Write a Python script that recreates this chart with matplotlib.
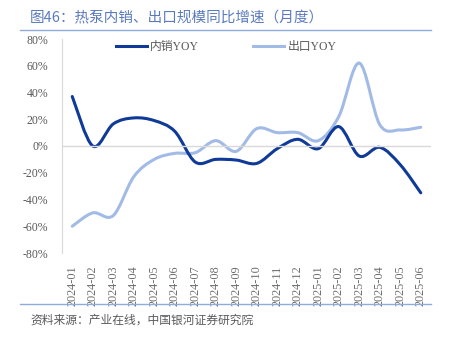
import numpy as np
import matplotlib
matplotlib.use('Agg')
import matplotlib.pyplot as plt
from matplotlib.path import Path
from matplotlib.patches import PathPatch
from matplotlib.lines import Line2D

plt.rcParams['font.family'] = ['Liberation Serif', 'Noto Sans CJK SC', 'DejaVu Sans']

months = ['2024-01', '2024-02', '2024-03', '2024-04', '2024-05', '2024-06',
          '2024-07', '2024-08', '2024-09', '2024-10', '2024-11', '2024-12',
          '2025-01', '2025-02', '2025-03', '2025-04', '2025-05', '2025-06']
domestic_yoy = [37, 0, 16.5, 21, 19, 11, -12, -10, -10.5, -13, -2, 5,
                -2, 14.5, -7.5, -1, -14, -35]
export_yoy = [-60, -50, -52, -23, -10, -5.5, -5, 4, -4, 13, 10, 10,
              4, 22, 62, 16, 12, 14]

DARK = '#103a98'
LIGHT = '#a2bbe6'
GRAY = '#595959'


def smooth_path(xs, ys, tension=1 / 6):
    # Excel-like smoothed line: cubic Bezier segments through each point
    pts = np.column_stack([xs, ys]).astype(float)
    verts = [pts[0]]
    codes = [Path.MOVETO]
    n = len(pts)
    for i in range(n - 1):
        p0 = pts[i - 1] if i > 0 else pts[i]
        p1 = pts[i]
        p2 = pts[i + 1]
        p3 = pts[i + 2] if i + 2 < n else pts[i + 1]
        c1 = p1 + (p2 - p0) * tension
        c2 = p2 - (p3 - p1) * tension
        verts += [c1, c2, p2]
        codes += [Path.CURVE4] * 3
    return Path(verts, codes)


fig = plt.figure(figsize=(4.52, 3.37), dpi=100)
ax = fig.add_axes([62 / 452, 1 - 253 / 337, (431 - 62) / 452, (253 - 39) / 337])

x = np.arange(len(months))
for ys, col in [(export_yoy, LIGHT), (domestic_yoy, DARK)]:
    ax.add_patch(PathPatch(smooth_path(x, ys), facecolor='none', edgecolor=col,
                           lw=2.2, capstyle='round'))

ax.set_xlim(-0.5, len(months) - 0.5)
ax.set_ylim(-80, 80)
ax.set_yticks(np.arange(-80, 81, 20))
ax.set_yticklabels([f'{v}%' for v in range(-80, 81, 20)], fontsize=8.5, color=GRAY)
ax.set_xticks(x)
ax.set_xticklabels(months, rotation=90, fontsize=8.8, color='#6e6e6e')
ax.tick_params(axis='x', length=0, pad=9)
ax.tick_params(axis='y', length=0, pad=10)
ax.axhline(0, color='#d9d9d9', lw=1)
for s in ['top', 'right', 'bottom']:
    ax.spines[s].set_visible(False)
ax.spines['left'].set_color('#d9d9d9')

handles = [Line2D([], [], color=DARK, lw=2.2), Line2D([], [], color=LIGHT, lw=2.2)]
ax.legend(handles, ['内销YOY', '出口YOY'], loc='upper center', ncol=2, frameon=False,
          bbox_to_anchor=(0.445, 1.04), fontsize=8.5, labelcolor=GRAY,
          handlelength=2.6, columnspacing=4.6, handletextpad=0.3)

fig.text(30 / 452, 1 - 18 / 337, '图46：热泵内销、出口规模同比增速（月度）', fontsize=10.5,
         color='#5b7bbd', va='center', family=['Noto Sans CJK SC'])
fig.add_artist(Line2D([20 / 452, 431 / 452], [1 - 30 / 337] * 2, color='#8faadc', lw=1))
fig.add_artist(Line2D([20 / 452, 431 / 452], [1 - 304 / 337] * 2, color='#8faadc', lw=1))
fig.text(30 / 452, 1 - 320 / 337, '资料来源：产业在线，中国银河证券研究院', fontsize=8.5,
         color=GRAY, va='center', style='italic', family=['Noto Sans CJK SC'])

fig.savefig('out.png', dpi=100)
